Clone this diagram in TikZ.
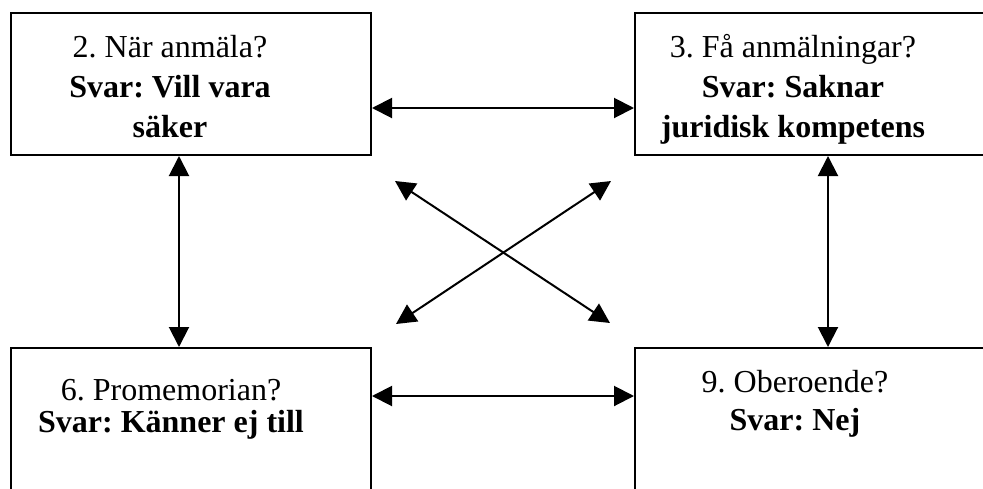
\documentclass[tikz,border=0pt]{standalone}
\usepackage{fontspec}
\setmainfont{Liberation Serif}
\usepackage{tikz}
\usetikzlibrary{arrows.meta,calc,positioning}
\frenchspacing
\tikzset{
    qBox/.style={
        ,   draw=black
        ,   line width=2pt
        ,   rectangle
        ,   inner sep=0pt
        ,   minimum width=360pt
        ,   minimum height=142pt
    },
    qText/.style={
        ,   align=center
        ,   inner sep=0pt
        ,   anchor=base % base = last line
        ,   font=\fontsize{32}{40}\selectfont
    },
    dblArrow/.style={
        ,   line width=2pt
        ,   {Triangle[length=20pt,width=20pt]}-{Triangle[length=20pt,width=20pt]}
    }
}
\begin{document}
\begin{tikzpicture}[x=1pt,y=-1pt]
\path[use as bounding box, clip] (0,0) rectangle (983,488);

\node[qBox] (box2) at (191,84) {};
\node[qBox] (box3) at (815,84) {};
\node[qBox] (box6) at (191,419) {};
\node[qBox] (box9) at (815,419) {};

\node[qText] (txt2) at (170,137) {2. När anmäla?\\\textbf{Svar: Vill vara}\\\textbf{säker}};
\node[qText] (txt3) at (793,137) {3. Få anmälningar?\\\textbf{Svar: Saknar}\\\textbf{juridisk kompetens}};
\node[qText, font=\fontsize{32}{32}\selectfont] (txt6) at (171,432) {6. Promemorian?\\\textbf{Svar: Känner ej till}};
\node[qText, font=\fontsize{32}{38}\selectfont] (txt9) at (795,430) {9. Oberoende?\\\textbf{Svar: Nej}};

% horizontal and vertical links
\coordinate (yTop) at (0,108);
\coordinate (yBot) at (0,396);
\coordinate (xLeft) at (179,0);
\coordinate (xRight) at (828,0);
\draw[dblArrow] (box2.east |- yTop) -- (box3.west |- yTop);
\draw[dblArrow] (box6.east |- yBot) -- (box9.west |- yBot);
\draw[dblArrow] (xLeft |- box2.south) -- (xLeft |- box6.north);
\draw[dblArrow] (xRight |- box3.south) -- (xRight |- box9.north);

% the cross in the middle
\coordinate (dTL) at (395,181);
\coordinate (dTR) at (611,181);
\coordinate (dBL) at (396,324);
\coordinate (dBR) at (610,323);
\draw[dblArrow] (dTL) -- (dBR);
\draw[dblArrow] (dTR) -- (dBL);
\end{tikzpicture}
\end{document}
